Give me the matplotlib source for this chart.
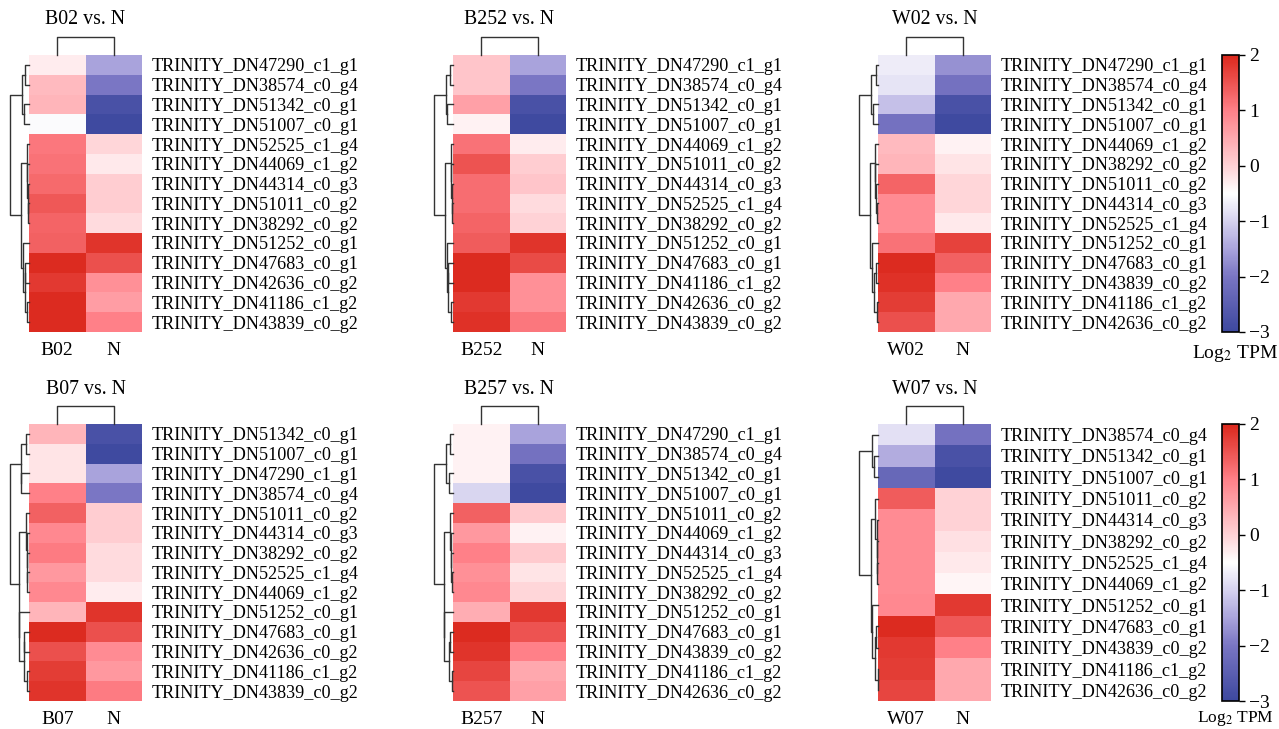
import numpy as np
import matplotlib.pyplot as plt
from matplotlib.colors import LinearSegmentedColormap, Normalize

plt.rcParams['font.family'] = ['Liberation Serif', 'DejaVu Serif']
plt.rcParams['mathtext.fontset'] = 'stix'

# ---- data (log2 TPM, columns: sample, N) ----
genes_b02 = ["TRINITY_DN47290_c1_g1", "TRINITY_DN38574_c0_g4", "TRINITY_DN51342_c0_g1",
             "TRINITY_DN51007_c0_g1", "TRINITY_DN52525_c1_g4", "TRINITY_DN44069_c1_g2",
             "TRINITY_DN44314_c0_g3", "TRINITY_DN51011_c0_g2", "TRINITY_DN38292_c0_g2",
             "TRINITY_DN51252_c0_g1", "TRINITY_DN47683_c0_g1", "TRINITY_DN42636_c0_g2",
             "TRINITY_DN41186_c1_g2", "TRINITY_DN43839_c0_g2"]
vals_b02 = [[-0.3, -1.5], [0.3, -2.0], [0.35, -2.8], [-0.55, -2.95], [1.1, -0.05],
            [1.15, -0.25], [1.25, 0.05], [1.45, 0.05], [1.3, -0.1], [1.35, 1.85],
            [1.95, 1.55], [1.8, 0.8], [1.95, 0.65], [1.95, 1.0]]

genes_b252 = ["TRINITY_DN47290_c1_g1", "TRINITY_DN38574_c0_g4", "TRINITY_DN51342_c0_g1",
              "TRINITY_DN51007_c0_g1", "TRINITY_DN44069_c1_g2", "TRINITY_DN51011_c0_g2",
              "TRINITY_DN44314_c0_g3", "TRINITY_DN52525_c1_g4", "TRINITY_DN38292_c0_g2",
              "TRINITY_DN51252_c0_g1", "TRINITY_DN47683_c0_g1", "TRINITY_DN41186_c1_g2",
              "TRINITY_DN42636_c0_g2", "TRINITY_DN43839_c0_g2"]
vals_b252 = [[0.15, -1.5], [0.15, -2.0], [0.6, -2.8], [-0.35, -2.95], [1.15, -0.3],
             [1.5, 0.05], [1.2, 0.15], [1.2, -0.1], [1.3, 0.0], [1.4, 1.85],
             [1.95, 1.6], [1.95, 0.8], [1.8, 0.8], [1.9, 1.1]]

genes_w02 = ["TRINITY_DN47290_c1_g1", "TRINITY_DN38574_c0_g4", "TRINITY_DN51342_c0_g1",
             "TRINITY_DN51007_c0_g1", "TRINITY_DN44069_c1_g2", "TRINITY_DN38292_c0_g2",
             "TRINITY_DN51011_c0_g2", "TRINITY_DN44314_c0_g3", "TRINITY_DN52525_c1_g4",
             "TRINITY_DN51252_c0_g1", "TRINITY_DN47683_c0_g1", "TRINITY_DN43839_c0_g2",
             "TRINITY_DN41186_c1_g2", "TRINITY_DN42636_c0_g2"]
vals_w02 = [[-0.7, -1.7], [-0.8, -2.1], [-1.2, -2.8], [-2.1, -2.95], [0.3, -0.35],
            [0.35, -0.2], [1.3, -0.05], [0.85, -0.05], [0.85, -0.25], [1.15, 1.7],
            [1.95, 1.35], [1.9, 1.0], [1.75, 0.5], [1.55, 0.5]]

genes_b07 = ["TRINITY_DN51342_c0_g1", "TRINITY_DN51007_c0_g1", "TRINITY_DN47290_c1_g1",
             "TRINITY_DN38574_c0_g4", "TRINITY_DN51011_c0_g2", "TRINITY_DN44314_c0_g3",
             "TRINITY_DN38292_c0_g2", "TRINITY_DN52525_c1_g4", "TRINITY_DN44069_c1_g2",
             "TRINITY_DN51252_c0_g1", "TRINITY_DN47683_c0_g1", "TRINITY_DN42636_c0_g2",
             "TRINITY_DN41186_c1_g2", "TRINITY_DN43839_c0_g2"]
vals_b07 = [[0.35, -2.8], [-0.2, -2.95], [-0.2, -1.5], [1.0, -2.0], [1.35, 0.05],
            [0.9, 0.05], [1.05, -0.1], [0.7, -0.1], [0.9, -0.3], [0.35, 1.85],
            [1.95, 1.55], [1.55, 0.85], [1.75, 0.7], [1.85, 1.05]]

genes_b257 = ["TRINITY_DN47290_c1_g1", "TRINITY_DN38574_c0_g4", "TRINITY_DN51342_c0_g1",
              "TRINITY_DN51007_c0_g1", "TRINITY_DN51011_c0_g2", "TRINITY_DN44069_c1_g2",
              "TRINITY_DN44314_c0_g3", "TRINITY_DN52525_c1_g4", "TRINITY_DN38292_c0_g2",
              "TRINITY_DN51252_c0_g1", "TRINITY_DN47683_c0_g1", "TRINITY_DN43839_c0_g2",
              "TRINITY_DN41186_c1_g2", "TRINITY_DN42636_c0_g2"]
vals_b257 = [[-0.35, -1.5], [-0.35, -2.1], [-0.35, -2.8], [-0.95, -2.95], [1.35, 0.1],
             [0.7, -0.35], [1.0, 0.1], [0.8, -0.2], [0.9, -0.05], [0.45, 1.8],
             [1.95, 1.5], [1.85, 1.0], [1.65, 0.5], [1.5, 0.6]]

genes_w07 = ["TRINITY_DN38574_c0_g4", "TRINITY_DN51342_c0_g1", "TRINITY_DN51007_c0_g1",
             "TRINITY_DN51011_c0_g2", "TRINITY_DN44314_c0_g3", "TRINITY_DN38292_c0_g2",
             "TRINITY_DN52525_c1_g4", "TRINITY_DN44069_c1_g2", "TRINITY_DN51252_c0_g1",
             "TRINITY_DN47683_c0_g1", "TRINITY_DN43839_c0_g2", "TRINITY_DN41186_c1_g2",
             "TRINITY_DN42636_c0_g2"]
vals_w07 = [[-0.85, -2.1], [-1.4, -2.8], [-2.3, -2.95], [1.4, 0.0], [0.85, 0.0],
            [0.85, -0.15], [0.85, -0.25], [0.85, -0.4], [0.9, 1.8], [1.95, 1.45],
            [1.8, 1.0], [1.75, 0.5], [1.65, 0.5]]

# row cluster trees (leaf order as shown)
tree14 = (((0, 1), (2, 3)), ((4, (5, (6, (7, 8)))), (9, ((10, 11), (12, 13)))))
tree13 = ((0, (1, 2)), ((3, (4, (5, (6, 7)))), (8, ((9, 10), (11, 12)))))

panels = [("B02", genes_b02, vals_b02, tree14),
          ("B252", genes_b252, vals_b252, tree14),
          ("W02", genes_w02, vals_w02, tree14),
          ("B07", genes_b07, vals_b07, tree14),
          ("B257", genes_b257, vals_b257, tree14),
          ("W07", genes_w07, vals_w07, tree13)]

cmap = LinearSegmentedColormap.from_list("bwr2", [
    (0.0, "#3d489f"), (0.2, "#7a76c4"), (0.3, "#aaa4dc"), (0.4, "#d6d2ef"),
    (0.5, "#ffffff"), (0.6, "#ffd2d6"), (0.8, "#ff8088"), (1.0, "#db281c")])
norm = Normalize(vmin=-3, vmax=2)

W, H = 1279, 729
fig = plt.figure(figsize=(W / 100, H / 100), dpi=100)


def box(x0, y0, x1, y1):
    return [x0 / W, 1 - y1 / H, (x1 - x0) / W, (y1 - y0) / H]


def build(node, v):
    # average linkage distance for a fixed topology
    if isinstance(node, int):
        return [node], node + 0.5, 0.0, []
    la, ya, ha, sa = build(node[0], v)
    lb, yb, hb, sb = build(node[1], v)
    h = np.mean([np.linalg.norm(v[i] - v[j]) for i in la for j in lb])
    h = max(h, ha, hb)
    segs = sa + sb + [([ha, h, h, hb], [ya, ya, yb, yb])]
    return la + lb, (ya + yb) / 2, h, segs


x_starts = [29, 453, 878]
y_tops = [55, 424]
hm_w, hm_h = 113, 277
lc = "#333333"

for k, (name, genes, vals, tree) in enumerate(panels):
    x0 = x_starts[k % 3]
    y0 = y_tops[k // 3]
    v = np.array(vals)
    n = len(genes)

    ax = fig.add_axes(box(x0, y0, x0 + hm_w, y0 + hm_h))
    ax.pcolormesh(v, cmap=cmap, norm=norm)
    ax.set_xlim(0, 2)
    ax.set_ylim(n, 0)
    for s in ax.spines.values():
        s.set_visible(False)
    ax.yaxis.tick_right()
    ax.set_yticks(np.arange(n) + 0.5, genes, fontsize=13.1)
    ax.set_xticks([0.5, 1.5], [name, "N"], fontsize=14)
    ax.tick_params(length=0)
    ax.tick_params(axis="y", pad=7)
    ax.tick_params(axis="x", pad=7)

    # row dendrogram
    dax = fig.add_axes(box(x0 - 19, y0, x0, y0 + hm_h))
    _, _, hmax, segs = build(tree, v)
    for xs, ys in segs:
        dax.plot(xs, ys, color=lc, lw=1, clip_on=False)
    dax.set_xlim(hmax, 0)
    dax.set_ylim(n, 0)
    dax.axis("off")

    # column dendrogram
    cax = fig.add_axes(box(x0, y0 - 18, x0 + hm_w, y0))
    hc = np.linalg.norm(v[:, 0] - v[:, 1])
    cax.plot([0.5, 0.5, 1.5, 1.5], [0, hc, hc, 0], color=lc, lw=1, clip_on=False)
    cax.set_xlim(0, 2)
    cax.set_ylim(0, hc)
    cax.axis("off")

    fig.text((x0 + hm_w / 2) / W, 1 - (y0 - 35) / H, name + " vs. N",
             ha="center", va="center", fontsize=14.3)

# colorbars
for y0 in y_tops:
    cb_ax = fig.add_axes(box(1222, y0, 1239, y0 + hm_h))
    sm = plt.cm.ScalarMappable(norm=norm, cmap=cmap)
    cb = fig.colorbar(sm, cax=cb_ax, ticks=[2, 1, 0, -1, -2, -3])
    cb.outline.set_linewidth(1.2)
    cb_ax.tick_params(labelsize=14, length=4, width=1)

fig.text(1235 / W, 1 - 354 / H, "Log$_2$ TPM", ha="center", va="center", fontsize=14)
fig.text(1235 / W, 1 - 728 / H, "Log$_2$ TPM", ha="center", va="bottom", fontsize=12.5)

fig.savefig("out.png", dpi=100)
